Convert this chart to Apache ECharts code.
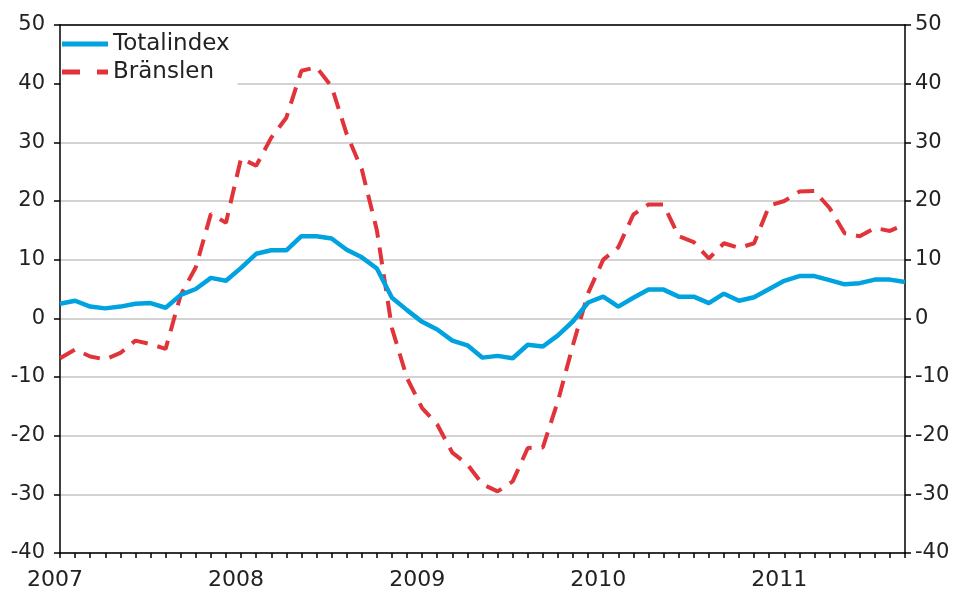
<!DOCTYPE html>
<html>
<head>
<meta charset="utf-8">
<script src="https://cdn.jsdelivr.net/npm/echarts@6/dist/echarts.min.js"></script>
<style>
  html, body { margin: 0; padding: 0; background: #fff; }
  #chart { width: 957px; height: 592px; }
</style>
</head>
<body>
<div id="chart"></div>
<script>
// monthly, Jan 2007 - Sep 2011
var years = ['2007', '2008', '2009', '2010', '2011'];
var monthsInLastYear = 9;

var totalindex = [
  2.5, 3.0, 2.0, 1.7, 2.0, 2.5, 2.6, 1.8, 4.0, 5.0, 6.9, 6.4,
  8.6, 11.0, 11.6, 11.6, 14.0, 14.0, 13.6, 11.7, 10.4, 8.5, 3.5, 1.4,
  -0.6, -1.9, -3.8, -4.6, -6.7, -6.4, -6.8, -4.5, -4.8, -2.9, -0.5, 2.7,
  3.7, 2.0, 3.5, 4.9, 4.9, 3.7, 3.7, 2.6, 4.2, 3.0, 3.6, 5.0,
  6.4, 7.2, 7.2, 6.5, 5.8, 6.0, 6.6, 6.6, 6.2
];

var bransle = [
  -6.8, -5.3, -6.5, -7.0, -5.9, -3.8, -4.4, -5.2, 4.0, 8.7, 17.8, 16.3,
  27.3, 26.0, 30.8, 34.2, 42.2, 42.8, 39.5, 31.4, 25.4, 15.0, -1.7, -10.2,
  -15.3, -18.1, -22.9, -24.9, -28.3, -29.5, -27.8, -22.1, -22.0, -14.1, -4.5, 4.3,
  10.0, 12.1, 17.7, 19.4, 19.4, 14.0, 13.0, 10.2, 12.8, 12.0, 12.8, 19.2,
  20.0, 21.6, 21.7, 18.8, 14.5, 14.0, 15.4, 14.9, 16.0
];

var yTicks = { min: -40, max: 50, step: 10 };

var categories = [];
years.forEach(function (y, yi) {
  var n = yi === years.length - 1 ? monthsInLastYear : 12;
  for (var m = 1; m <= n; m++) {
    categories.push(y + '-' + (m < 10 ? '0' + m : m));
  }
});

var font = 'DejaVu Sans';
var textColor = '#222';
var blue = '#00a2e0';
var red = '#e0333a';

var yAxisBase = {
  type: 'value',
  min: yTicks.min,
  max: yTicks.max,
  interval: yTicks.step,
  axisLine: { show: true, lineStyle: { color: '#000', width: 1.5 } },
  axisTick: { show: true, inside: false, length: 6, lineStyle: { color: '#000', width: 1.5 } }
};

var chart = echarts.init(document.getElementById('chart'));
chart.setOption({
  animation: false,
  backgroundColor: '#fff',
  grid: { left: 60, right: 52, top: 25, bottom: 39, containLabel: false },
  legend: {
    orient: 'vertical',
    left: 61, top: 26,
    padding: [6, 8, 6, 1],
    backgroundColor: '#fff',
    itemWidth: 46, itemHeight: 5, itemGap: 4,
    textStyle: { color: textColor, fontFamily: font, fontSize: 23, lineHeight: 24 },
    data: [
      { name: 'Totalindex', icon: 'path://M0,0h46v5h-46z', itemStyle: { color: blue } },
      { name: 'Bränslen', icon: 'path://M0,0h18v5h-18zM35,0h11v5h-11z', itemStyle: { color: red } }
    ]
  },
  xAxis: [
    {
      type: 'category',
      data: categories,
      boundaryGap: false,
      axisLine: { onZero: false, lineStyle: { color: '#000', width: 1.5 } },
      axisTick: { show: true, interval: 0, length: 5, lineStyle: { color: '#000', width: 1.5 } },
      axisLabel: {
        color: textColor, fontFamily: font, fontSize: 22, margin: 16,
        interval: function (idx) { return idx % 12 === 0; },
        formatter: function (v) { return v.slice(0, 4); },
        padding: [0, 10, 0, 0]
      },
      splitLine: { show: false }
    },
    {
      type: 'category',
      data: categories,
      boundaryGap: false,
      position: 'top',
      axisLine: { onZero: false, lineStyle: { color: '#000', width: 1.5 } },
      axisTick: { show: false },
      axisLabel: { show: false },
      splitLine: { show: false }
    }
  ],
  yAxis: [
    Object.assign({}, yAxisBase, {
      position: 'left',
      axisLabel: { color: textColor, fontFamily: font, fontSize: 21, margin: 15 },
      splitLine: { show: true, lineStyle: { color: '#c4c4c4', width: 1.5 } }
    }),
    Object.assign({}, yAxisBase, {
      position: 'right',
      axisLabel: { color: textColor, fontFamily: font, fontSize: 21, margin: 10 },
      splitLine: { show: false }
    })
  ],
  series: [
    {
      name: 'Totalindex',
      type: 'line',
      data: totalindex,
      showSymbol: false,
      symbol: 'none',
      z: 3,
      lineStyle: { color: blue, width: 4.5 },
      itemStyle: { color: blue }
    },
    {
      name: 'Bränslen',
      type: 'line',
      data: bransle,
      showSymbol: false,
      symbol: 'none',
      z: 2,
      lineStyle: { color: red, width: 4, type: [17, 10] },
      itemStyle: { color: red }
    }
  ]
});
</script>
</body>
</html>
